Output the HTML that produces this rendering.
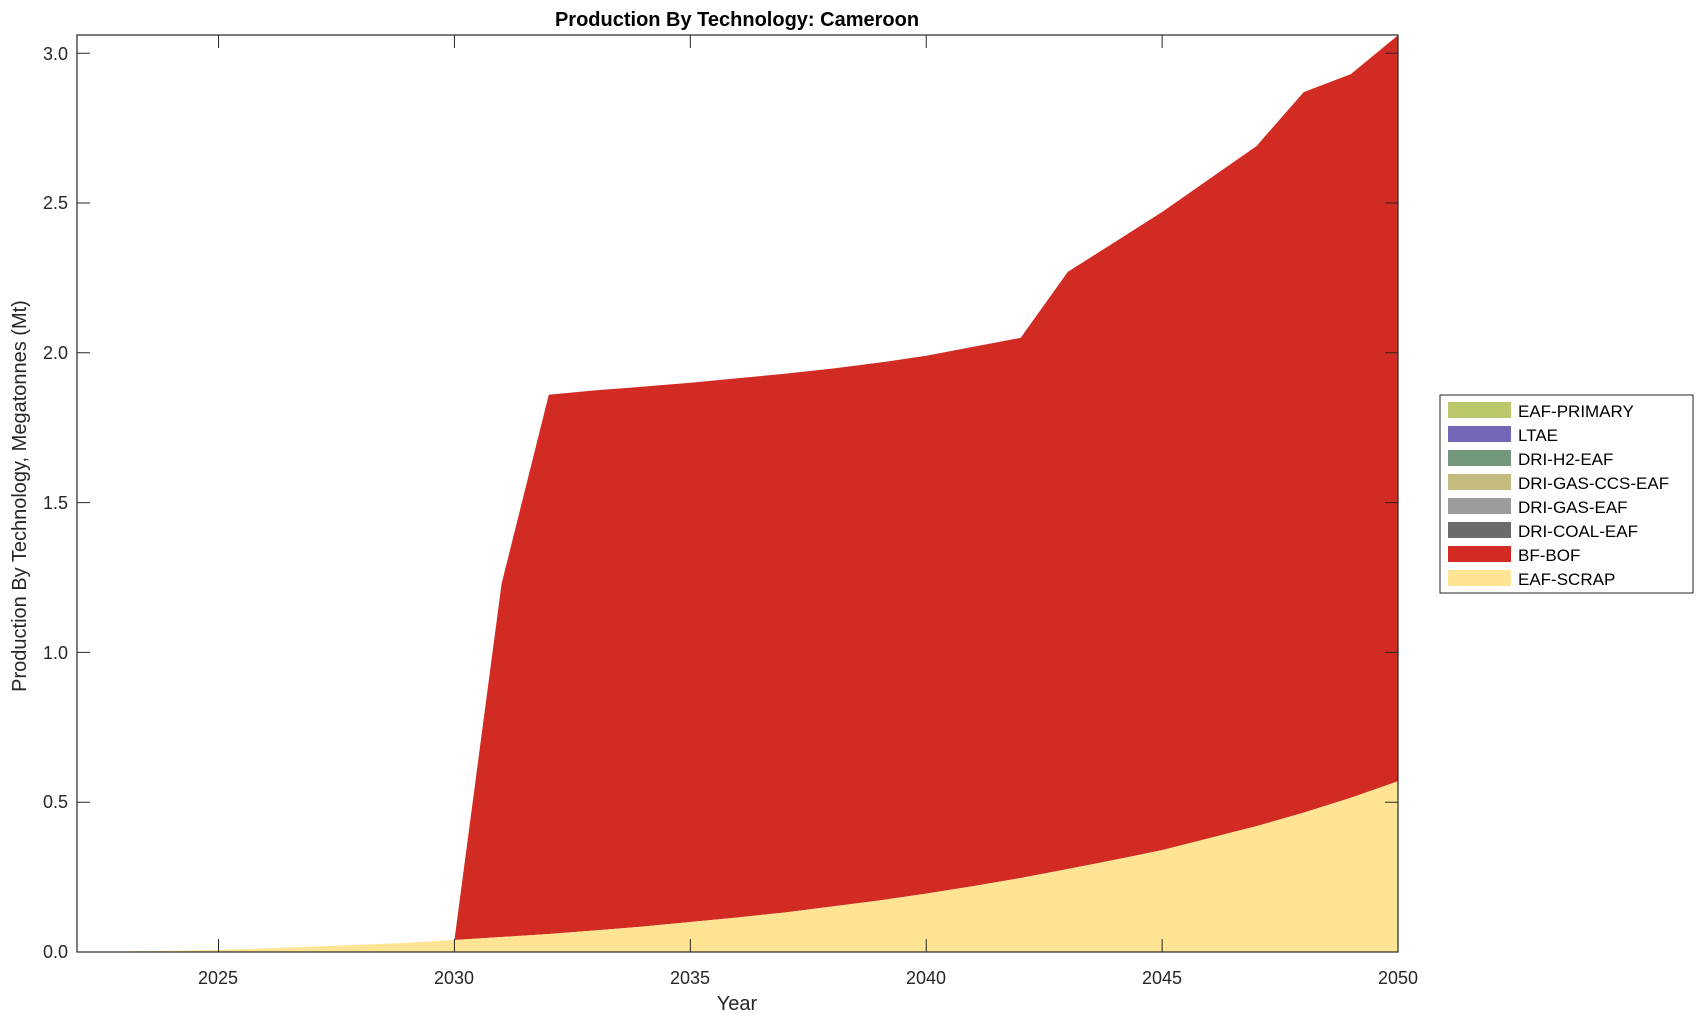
<!DOCTYPE html>
<html><head><style>body{margin:0;background:#fff}svg{display:block;font-family:"Liberation Sans",Arial,sans-serif}</style></head>
<body>
<svg id="s" width="1703" height="1021" viewBox="0 0 1703 1021">
<text x="737" y="26" text-anchor="middle" font-size="20" font-weight="bold">Production By Technology: Cameroon</text>
<g id="areas"></g>
<g id="ticks" stroke="#262626" stroke-width="1"></g>
<rect x="77" y="35" width="1321" height="917" fill="none" stroke="#262626" stroke-width="1.2"/>
<g font-size="18" fill="#262626" text-anchor="middle">
<text x="218" y="984">2025</text><text x="454" y="984">2030</text><text x="690" y="984">2035</text><text x="926" y="984">2040</text><text x="1162" y="984">2045</text><text x="1398" y="984">2050</text>
<text x="737" y="1010" font-size="20">Year</text>
</g>
<g font-size="18" fill="#262626" text-anchor="end">
<text x="68" y="958">0.0</text><text x="68" y="808">0.5</text><text x="68" y="659">1.0</text><text x="68" y="509">1.5</text><text x="68" y="359">2.0</text><text x="68" y="209">2.5</text><text x="68" y="60">3.0</text>
</g>
<text transform="translate(26,496) rotate(-90)" text-anchor="middle" font-size="20" fill="#262626">Production By Technology, Megatonnes (Mt)</text>
<rect x="1440" y="395" width="253" height="198" fill="#fff" stroke="#262626" stroke-width="1"/>
<g font-size="17" fill="#000">
<rect x="1448" y="402" width="63" height="16" fill="#bcc66a"/><text x="1518" y="417">EAF-PRIMARY</text>
<rect x="1448" y="426" width="63" height="16" fill="#7267b7"/><text x="1518" y="441">LTAE</text>
<rect x="1448" y="450" width="63" height="16" fill="#72977a"/><text x="1518" y="465">DRI-H2-EAF</text>
<rect x="1448" y="474" width="63" height="16" fill="#c5bb7e"/><text x="1518" y="489">DRI-GAS-CCS-EAF</text>
<rect x="1448" y="498" width="63" height="16" fill="#9c9c9c"/><text x="1518" y="513">DRI-GAS-EAF</text>
<rect x="1448" y="522" width="63" height="16" fill="#6b6b6b"/><text x="1518" y="537">DRI-COAL-EAF</text>
<rect x="1448" y="546" width="63" height="16" fill="#d22b24"/><text x="1518" y="561">BF-BOF</text>
<rect x="1448" y="570" width="63" height="16" fill="#fee493"/><text x="1518" y="585">EAF-SCRAP</text>
</g>
</svg>
<script>
var tot=[null,null,null,null,null,null,null,null,0.04,1.23,1.86,1.875,1.887,1.90,1.915,1.93,1.947,1.967,1.99,2.02,2.05,2.27,2.37,2.47,2.58,2.69,2.87,2.93,3.06];
var sc=[0,0.002,0.004,0.007,0.012,0.018,0.024,0.031,0.04,0.05,0.06,0.072,0.085,0.1,0.115,0.132,0.152,0.172,0.195,0.22,0.247,0.277,0.308,0.34,0.38,0.42,0.465,0.515,0.57];
function X(y){return 77+(y-2022)*47.18}function Y(v){return 952-v*299.6}
var s="",b="";
for(var i=0;i<sc.length;i++){s+=(i?"L":"M")+X(2022+i)+","+Y(sc[i]);}
var sp=s+"L1398,952L77,952Z";
for(var i=8;i<tot.length;i++){b+=(i>8?"L":"M")+X(2022+i)+","+Y(tot[i]);}
for(var i=sc.length-1;i>=8;i--){b+="L"+X(2022+i)+","+Y(sc[i]);}
b+="Z";
var ns="http://www.w3.org/2000/svg",g=document.getElementById("areas");
[[b,"#d22b24"],[sp,"#fee493"]].forEach(function(p){var e=document.createElementNS(ns,"path");e.setAttribute("d",p[0]);e.setAttribute("fill",p[1]);g.appendChild(e);});
var t=document.getElementById("ticks"),d="";
[2025,2030,2035,2040,2045].forEach(function(y){var x=X(y);d+="M"+x+",952v-13M"+x+",35v13";});
for(var k=0;k<=6;k++){var yy=Y(k*0.5);d+="M77,"+yy+"h13M1398,"+yy+"h-13";}
var e=document.createElementNS(ns,"path");e.setAttribute("d",d);t.appendChild(e);
</script>
</body></html>
